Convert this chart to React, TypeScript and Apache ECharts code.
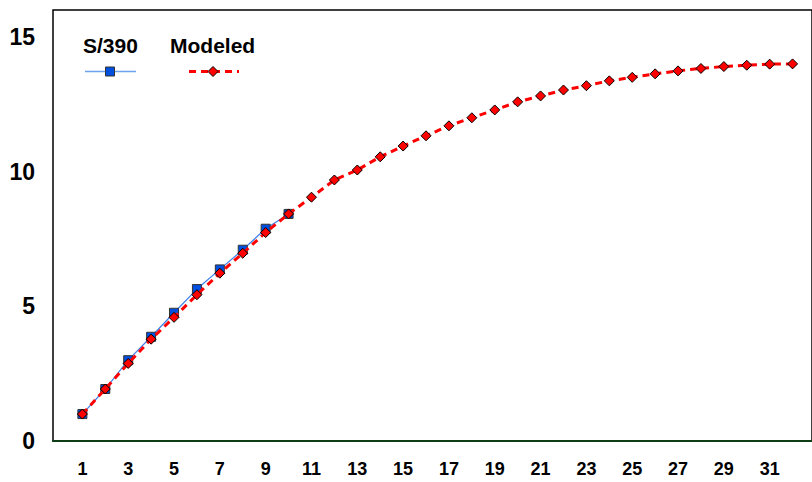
import React, { useEffect, useRef } from "react";
import * as echarts from "echarts";

const xTickLabels = [1, 3, 5, 7, 9, 11, 13, 15, 17, 19, 21, 23, 25, 27, 29, 31];
const yTickLabels = [0, 5, 10, 15];
const s390X = [1, 2, 3, 4, 5, 6, 7, 8, 9, 10];
const s390Y = [1.0, 1.93, 3.0, 3.87, 4.76, 5.64, 6.37, 7.1, 7.88, 8.43];
const modeledX = [1, 2, 3, 4, 5, 6, 7, 8, 9, 10, 11, 12, 13, 14, 15, 16, 17, 18, 19, 20, 21, 22, 23, 24, 25, 26, 27, 28, 29, 30, 31, 32];
const modeledY = [1.0, 1.93, 2.88, 3.78, 4.59, 5.43, 6.23, 6.97, 7.74, 8.43, 9.05, 9.69, 10.06, 10.55, 10.95, 11.33, 11.7, 12.0, 12.29, 12.59, 12.81, 13.03, 13.19, 13.37, 13.5, 13.63, 13.74, 13.83, 13.9, 13.95, 13.99, 14.0];
const seriesNames = ["S/390", "Modeled"];

export default function App() {
  const ref = useRef<HTMLDivElement>(null);
  useEffect(() => {
    if (!ref.current) return;
    const chart = echarts.init(ref.current, null, { renderer: "svg" });
    const font = "Liberation Sans";
    chart.setOption({
      animation: false,
      backgroundColor: "#ffffff",
      textStyle: { fontFamily: font },
      grid: {
        left: 53,
        top: 10,
        right: -3,
        bottom: 41,
        show: true,
        borderColor: "#000000",
        borderWidth: 1.5,
      },
      xAxis: {
        type: "value",
        min: 1 - 29.5 / 23,
        max: 1 - 29.5 / 23 + 762 / 23,
        splitLine: { show: false },
        axisTick: { show: false },
        axisLine: { show: true, lineStyle: { color: "#0d3d14", width: 2 } },
        axisLabel: {
          customValues: xTickLabels,
          textStyle: { fontSize: 18, fontWeight: "bold", color: "#000" },
          color: "#000",
          fontWeight: "bold",
          fontSize: 18,
          margin: 19,
        },
      },
      yAxis: {
        type: "value",
        min: 0,
        max: 16,
        splitLine: { show: false },
        axisTick: { show: false },
        axisLine: { show: false },
        axisLabel: {
          customValues: yTickLabels,
          textStyle: { fontSize: 23, fontWeight: "bold", color: "#000" },
          color: "#000",
          fontWeight: "bold",
          fontSize: 23,
          margin: 18,
        },
      },
      graphic: [
        { type: "text", left: 83, top: 35, style: { text: seriesNames[0], fontSize: 21, fontWeight: "bold", fontFamily: font, fill: "#000" } },
        { type: "text", left: 170, top: 35, style: { text: seriesNames[1], fontSize: 21, fontWeight: "bold", fontFamily: font, fill: "#000" } },
        { type: "line", shape: { x1: 85, y1: 71.5, x2: 136, y2: 71.5 }, style: { stroke: "#6ea2ee", lineWidth: 1.5 } },
        { type: "rect", shape: { x: 105.5, y: 67, width: 9, height: 9 }, style: { fill: "#0050e0", stroke: "#333", lineWidth: 1 } },
        { type: "line", shape: { x1: 189, y1: 71.5, x2: 239, y2: 71.5 }, style: { stroke: "#ff0000", lineWidth: 3, lineDash: [7, 5] } },
        { type: "polygon", shape: { points: [[213, 66.5], [218, 71.5], [213, 76.5], [208, 71.5]] }, style: { fill: "#ff0000", stroke: "#000", lineWidth: 1 } },
      ],
      series: [
        {
          name: seriesNames[0],
          type: "line",
          data: s390X.map((x, i) => [x, s390Y[i]]),
          symbol: "rect",
          symbolSize: 9,
          lineStyle: { color: "#3f80e8", width: 1.2 },
          itemStyle: { color: "#0050e0", borderColor: "#333", borderWidth: 1 },
          z: 2,
        },
        {
          name: seriesNames[1],
          type: "line",
          data: modeledX.map((x, i) => [x, modeledY[i]]),
          symbol: "diamond",
          symbolSize: 10,
          lineStyle: { color: "#ff0000", width: 3, type: [7, 5] },
          itemStyle: { color: "#ff0000", borderColor: "#000", borderWidth: 1 },
          z: 3,
        },
      ],
    });
    return () => chart.dispose();
  }, []);
  return <div ref={ref} style={{ width: 812, height: 482, position: "absolute", left: 0, top: 0 }} />;
}
